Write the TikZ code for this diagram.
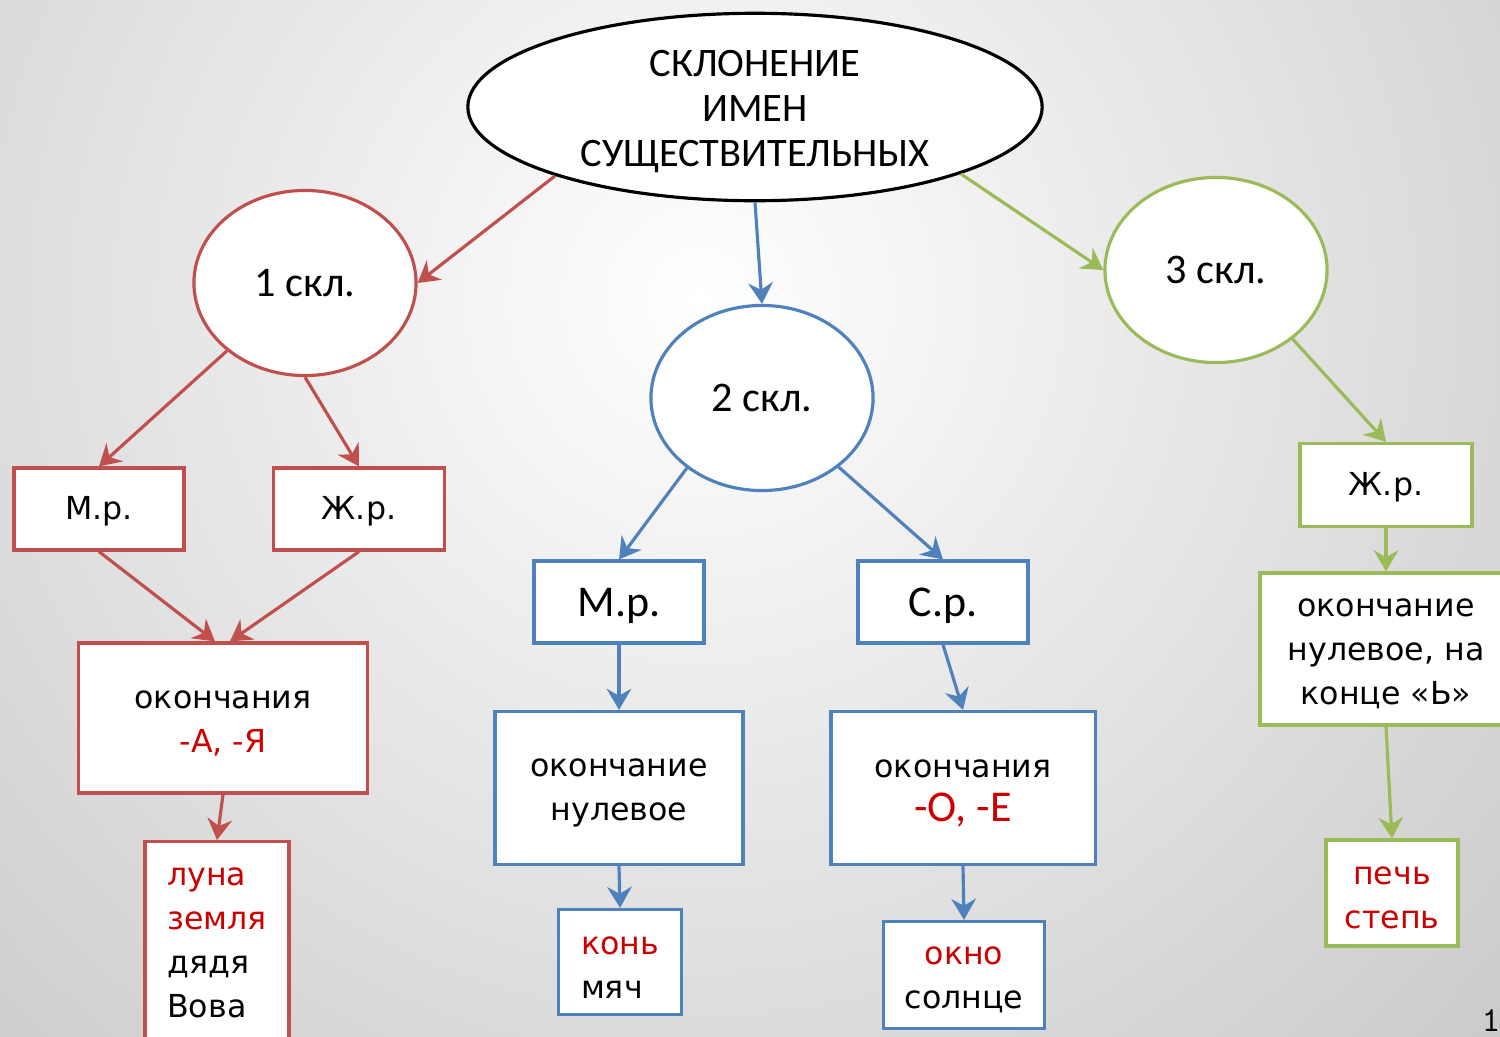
\documentclass[tikz,border=0pt]{standalone}
\usepackage{fontspec}
\setmainfont{DejaVu Sans}
\newfontfamily\calfont{Carlito}
\usetikzlibrary{arrows.meta,shapes.geometric}
\definecolor{skred}{HTML}{C0504D}
\definecolor{skblue}{HTML}{4F81BD}
\definecolor{skgreen}{HTML}{9BBB59}
\definecolor{wordred}{HTML}{CC0000}
\newcommand{\skstrut}{\rule{0pt}{8pt}}
\newcommand{\skcapstrut}{\rule{0pt}{10.3pt}}
\begin{document}
\begin{tikzpicture}[x=0.01cm,y=-0.01cm,
    sk/.style={ellipse,draw,fill=white,line width=0.9pt,inner sep=0pt,
      minimum width=2.22cm,minimum height=1.85cm,font=\calfont\fontsize{12}{14}\selectfont},
    gbox/.style={rectangle,draw,fill=white,line width=0.9pt,align=center,
      font=\fontsize{9}{12.5}\selectfont},
    tag/.style={gbox,minimum width=1.7cm,minimum height=0.82cm},
    ctag/.style={tag,font=\calfont\fontsize{12.5}{14}\selectfont},
    arr/.style={line width=0.9pt,-{Stealth[length=6pt,width=7pt,inset=2pt]}}]
  \useasboundingbox (0,0) rectangle (1500,1036);
  \clip (0,0) rectangle (1500,1036);
  \shade[inner color=white,outer color=black!36] (-1200,-1600) rectangle (2600,2200);

  \node[sk,draw=black,minimum width=5.74cm,minimum height=1.85cm,align=center,
    font=\calfont\fontsize{11.5}{12.8}\selectfont] (top) at (755,107)
    {\skcapstrut СКЛОНЕНИЕ\\ИМЕН\\СУЩЕСТВИТЕЛЬНЫХ};
  \node[sk,draw=skred] (c1) at (305,283) {1 скл.};
  \node[sk,draw=skblue] (c2) at (762,398) {2 скл.};
  \node[sk,draw=skgreen] (c3) at (1216,270) {3 скл.};

  \node[tag,draw=skred] (m1) at (99,509) {\skstrut М.р.};
  \node[tag,draw=skred,minimum width=1.71cm] (f1) at (359,509) {\skstrut Ж.р.};
  \node[gbox,draw=skred,minimum width=2.88cm,minimum height=1.5cm] (end1) at (223,718)
    {\skstrut окончания\\\textcolor{wordred}{-А, -Я}};
  \node[gbox,draw=skred,minimum width=1.44cm,minimum height=2.02cm,anchor=north,align=left] (ex1) at (217,840)
    {\textcolor{wordred}{луна}\\\textcolor{wordred}{земля}\\дядя\\Вова};

  \node[ctag,draw=skblue] (m2) at (619,602) {\skcapstrut М.р.};
  \node[ctag,draw=skblue] (n2) at (943,602) {\skcapstrut С.р.};
  \node[gbox,draw=skblue,minimum width=2.48cm,minimum height=1.53cm] (end2) at (619,788)
    {\skstrut окончание\\нулевое};
  \node[gbox,draw=skblue,minimum width=2.64cm,minimum height=1.53cm] (end3) at (963,788)
    {\skstrut окончания\\\textcolor{wordred}{\calfont\fontsize{12.5}{12.5}\selectfont -О, -Е}};
  \node[gbox,draw=skblue,minimum width=1.23cm,minimum height=1.05cm,align=left] (ex2) at (620,962)
    {\skstrut\textcolor{wordred}{конь}\\мяч};
  \node[gbox,draw=skblue,minimum width=1.61cm,minimum height=1.07cm] (ex3) at (964,975)
    {\skstrut\textcolor{wordred}{окно}\\солнце};

  \node[tag,draw=skgreen,minimum width=1.72cm,minimum height=0.83cm] (f3) at (1386,485) {\skstrut Ж.р.};
  \node[gbox,draw=skgreen,minimum width=2.52cm,minimum height=1.52cm] (end4) at (1386,649)
    {\skstrut окончание\\нулевое, на\\конце «Ь»};
  \node[gbox,draw=skgreen,minimum width=1.32cm,minimum height=1.06cm] (ex4) at (1392,893)
    {\skstrut\textcolor{wordred}{печь}\\\textcolor{wordred}{степь}};

  \node[font=\ttfamily\fontsize{10}{10}\selectfont,anchor=south east,inner sep=0pt] (pg) at (1501,1032) {1};

  \foreach \a/\b in {top.199/c1.east,c1.221/m1.north,c1.south/f1.north,end1.south/ex1.north}
    \draw[arr,skred] (\a) -- (\b);
  \draw[arr,skred] (m1.south) -- ([xshift=-0.08cm]end1.north);
  \draw[arr,skred] (f1.south) -- ([xshift=0.07cm]end1.north);
  \foreach \a/\b in {top.south/c2.north,c2.223/m2.north,c2.318/n2.north,
      m2.south/end2.north,n2.south/end3.north,end2.south/ex2.north,end3.south/ex3.north}
    \draw[arr,skblue] (\a) -- (\b);
  \foreach \a/\b in {top.342/c3.west,c3.318/f3.north,f3.south/end4.north,end4.south/ex4.north}
    \draw[arr,skgreen] (\a) -- (\b);
\end{tikzpicture}
\end{document}
